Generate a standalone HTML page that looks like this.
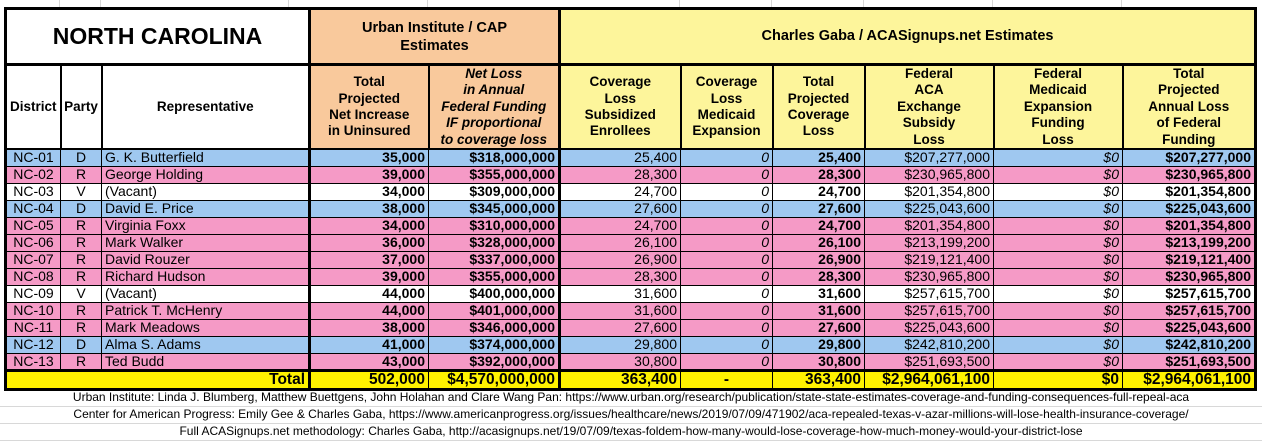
<!DOCTYPE html>
<html><head><meta charset="utf-8"><style>
body{margin:0;width:1262px;height:445px;background:#fff;overflow:hidden;font-family:"Liberation Sans",Arial,sans-serif;position:relative}
.g{position:absolute;background:#d8d8d8}
table{position:absolute;left:4px;top:7px;border-collapse:collapse;table-layout:fixed;border:3px solid #000}
td{border:1px solid #000;padding:0 3px;font-size:14px;line-height:15px;white-space:nowrap;overflow:hidden;box-sizing:border-box}
tr.d td{height:17px;line-height:15px}
.h td{font-weight:bold;text-align:center;white-space:nowrap;font-size:13.5px;line-height:16.4px;border-width:2px;padding:0}
.o{background:#f9c99c}.y{background:#fdf59b}
.b td{background:#9fc8f0}.p td{background:#f59ac6}
.c{text-align:center}.r{text-align:right}.bo{font-weight:bold}.i{font-style:italic}
.tl{border-left:3px solid #000 !important}
.tot td{background:#fff200;font-weight:bold;font-size:15.5px;line-height:16px;height:18px;border-top:3px solid #000}
.f{position:absolute;left:0;width:1262px;text-align:center;font-size:12px;color:#000}
</style></head><body>
<div class="g" style="left:0;top:406px;width:1262px;height:1px"></div>
<div class="g" style="left:0;top:423px;width:1262px;height:1px"></div>
<div class="g" style="left:0;top:440px;width:1262px;height:1px"></div>
<div class="g" style="left:59px;top:0;width:1px;height:8px"></div>
<div class="g" style="left:100px;top:0;width:1px;height:8px"></div>
<div class="g" style="left:288px;top:0;width:1px;height:8px"></div>
<div class="g" style="left:427px;top:0;width:1px;height:8px"></div>
<div class="g" style="left:679px;top:0;width:1px;height:8px"></div>
<div class="g" style="left:771px;top:0;width:1px;height:8px"></div>
<div class="g" style="left:863px;top:0;width:1px;height:8px"></div>
<div class="g" style="left:992px;top:0;width:1px;height:8px"></div>
<div class="g" style="left:1121px;top:0;width:1px;height:8px"></div>
<table>
<colgroup><col style="width:55px"><col style="width:41px"><col style="width:208px"><col style="width:119px"><col style="width:131px"><col style="width:121px"><col style="width:92px"><col style="width:92px"><col style="width:129px"><col style="width:129px"><col style="width:133px"></colgroup>
<tr class="h" style="height:56px"><td colspan="3" style="font-size:23px;border-bottom:3px solid #000">NORTH CAROLINA</td><td colspan="2" class="o tl" style="font-size:14.5px;line-height:18px;border-bottom:3px solid #000">Urban Institute / CAP<br>Estimates</td><td colspan="6" class="y tl" style="font-size:14.5px;border-bottom:3px solid #000">Charles Gaba / ACASignups.net Estimates</td></tr>
<tr class="h" style="height:83px"><td>District</td><td>Party</td><td>Representative</td><td class="o tl">Total<br>Projected<br>Net Increase<br>in Uninsured</td><td class="o i">Net Loss<br>in Annual<br>Federal Funding<br>IF proportional<br>to coverage loss</td><td class="y tl">Coverage<br>Loss<br>Subsidized<br>Enrollees</td><td class="y">Coverage<br>Loss<br>Medicaid<br>Expansion</td><td class="y">Total<br>Projected<br>Coverage<br>Loss</td><td class="y">Federal<br>ACA<br>Exchange<br>Subsidy<br>Loss</td><td class="y">Federal<br>Medicaid<br>Expansion<br>Funding<br>Loss</td><td class="y">Total<br>Projected<br>Annual Loss<br>of Federal<br>Funding</td></tr>
<tr class="d b"><td class="c">NC-01</td><td class="c">D</td><td>G. K. Butterfield</td><td class="r bo tl">35,000</td><td class="r bo">$318,000,000</td><td class="r tl">25,400</td><td class="r i">0</td><td class="r bo">25,400</td><td class="r">$207,277,000</td><td class="r i">$0</td><td class="r bo">$207,277,000</td></tr>
<tr class="d p"><td class="c">NC-02</td><td class="c">R</td><td>George Holding</td><td class="r bo tl">39,000</td><td class="r bo">$355,000,000</td><td class="r tl">28,300</td><td class="r i">0</td><td class="r bo">28,300</td><td class="r">$230,965,800</td><td class="r i">$0</td><td class="r bo">$230,965,800</td></tr>
<tr class="d"><td class="c">NC-03</td><td class="c">V</td><td>(Vacant)</td><td class="r bo tl">34,000</td><td class="r bo">$309,000,000</td><td class="r tl">24,700</td><td class="r i">0</td><td class="r bo">24,700</td><td class="r">$201,354,800</td><td class="r i">$0</td><td class="r bo">$201,354,800</td></tr>
<tr class="d b"><td class="c">NC-04</td><td class="c">D</td><td>David E. Price</td><td class="r bo tl">38,000</td><td class="r bo">$345,000,000</td><td class="r tl">27,600</td><td class="r i">0</td><td class="r bo">27,600</td><td class="r">$225,043,600</td><td class="r i">$0</td><td class="r bo">$225,043,600</td></tr>
<tr class="d p"><td class="c">NC-05</td><td class="c">R</td><td>Virginia Foxx</td><td class="r bo tl">34,000</td><td class="r bo">$310,000,000</td><td class="r tl">24,700</td><td class="r i">0</td><td class="r bo">24,700</td><td class="r">$201,354,800</td><td class="r i">$0</td><td class="r bo">$201,354,800</td></tr>
<tr class="d p"><td class="c">NC-06</td><td class="c">R</td><td>Mark Walker</td><td class="r bo tl">36,000</td><td class="r bo">$328,000,000</td><td class="r tl">26,100</td><td class="r i">0</td><td class="r bo">26,100</td><td class="r">$213,199,200</td><td class="r i">$0</td><td class="r bo">$213,199,200</td></tr>
<tr class="d p"><td class="c">NC-07</td><td class="c">R</td><td>David Rouzer</td><td class="r bo tl">37,000</td><td class="r bo">$337,000,000</td><td class="r tl">26,900</td><td class="r i">0</td><td class="r bo">26,900</td><td class="r">$219,121,400</td><td class="r i">$0</td><td class="r bo">$219,121,400</td></tr>
<tr class="d p"><td class="c">NC-08</td><td class="c">R</td><td>Richard Hudson</td><td class="r bo tl">39,000</td><td class="r bo">$355,000,000</td><td class="r tl">28,300</td><td class="r i">0</td><td class="r bo">28,300</td><td class="r">$230,965,800</td><td class="r i">$0</td><td class="r bo">$230,965,800</td></tr>
<tr class="d"><td class="c">NC-09</td><td class="c">V</td><td>(Vacant)</td><td class="r bo tl">44,000</td><td class="r bo">$400,000,000</td><td class="r tl">31,600</td><td class="r i">0</td><td class="r bo">31,600</td><td class="r">$257,615,700</td><td class="r i">$0</td><td class="r bo">$257,615,700</td></tr>
<tr class="d p"><td class="c">NC-10</td><td class="c">R</td><td>Patrick T. McHenry</td><td class="r bo tl">44,000</td><td class="r bo">$401,000,000</td><td class="r tl">31,600</td><td class="r i">0</td><td class="r bo">31,600</td><td class="r">$257,615,700</td><td class="r i">$0</td><td class="r bo">$257,615,700</td></tr>
<tr class="d p"><td class="c">NC-11</td><td class="c">R</td><td>Mark Meadows</td><td class="r bo tl">38,000</td><td class="r bo">$346,000,000</td><td class="r tl">27,600</td><td class="r i">0</td><td class="r bo">27,600</td><td class="r">$225,043,600</td><td class="r i">$0</td><td class="r bo">$225,043,600</td></tr>
<tr class="d b"><td class="c">NC-12</td><td class="c">D</td><td>Alma S. Adams</td><td class="r bo tl">41,000</td><td class="r bo">$374,000,000</td><td class="r tl">29,800</td><td class="r i">0</td><td class="r bo">29,800</td><td class="r">$242,810,200</td><td class="r i">$0</td><td class="r bo">$242,810,200</td></tr>
<tr class="d p"><td class="c">NC-13</td><td class="c">R</td><td>Ted Budd</td><td class="r bo tl">43,000</td><td class="r bo">$392,000,000</td><td class="r tl">30,800</td><td class="r i">0</td><td class="r bo">30,800</td><td class="r">$251,693,500</td><td class="r i">$0</td><td class="r bo">$251,693,500</td></tr>
<tr class="tot"><td colspan="3" class="r">Total</td><td class="r tl">502,000</td><td class="r">$4,570,000,000</td><td class="r tl">363,400</td><td class="c">-</td><td class="r">363,400</td><td class="r">$2,964,061,100</td><td class="r">$0</td><td class="r">$2,964,061,100</td></tr>
</table>
<div class="f" style="top:390px">Urban Institute: Linda J. Blumberg, Matthew Buettgens, John Holahan and Clare Wang Pan: https://www.urban.org/research/publication/state-state-estimates-coverage-and-funding-consequences-full-repeal-aca</div>
<div class="f" style="top:407px">Center for American Progress: Emily Gee &amp; Charles Gaba, https://www.americanprogress.org/issues/healthcare/news/2019/07/09/471902/aca-repealed-texas-v-azar-millions-will-lose-health-insurance-coverage/</div>
<div class="f" style="top:424px">Full ACASignups.net methodology: Charles Gaba, http://acasignups.net/19/07/09/texas-foldem-how-many-would-lose-coverage-how-much-money-would-your-district-lose</div>
</body></html>
